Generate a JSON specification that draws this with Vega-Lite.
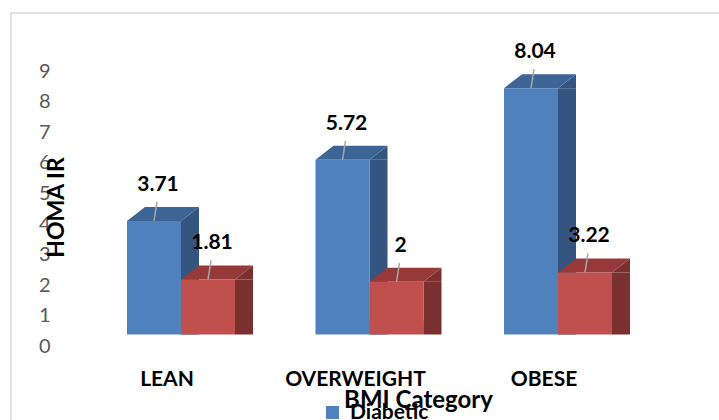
{
  "$schema": "https://vega.github.io/schema/vega-lite/v6.json",
  "width": 708,
  "height": 407,
  "autosize": {"type": "none"},
  "padding": {"left": 11, "top": 13, "right": 0, "bottom": 0},
  "background": "white",
  "config": {
    "view": {"stroke": "#D9D9D9", "strokeWidth": 1.5, "strokeDash": [708, 1115]},
    "font": "Lato"
  },
  "data": {
    "values": [
      {"cat": "LEAN", "series": "Diabetic", "value": 3.71, "label": "3.71"},
      {"cat": "LEAN", "series": "Non-Diabetic", "value": 1.8, "label": "1.81"},
      {"cat": "OVERWEIGHT", "series": "Diabetic", "value": 5.71, "label": "5.72"},
      {"cat": "OVERWEIGHT", "series": "Non-Diabetic", "value": 1.72, "label": "2"},
      {"cat": "OBESE", "series": "Diabetic", "value": 8.05, "label": "8.04"},
      {"cat": "OBESE", "series": "Non-Diabetic", "value": 2.03, "label": "3.22"}
    ]
  },
  "encoding": {
    "x": {
      "field": "cat",
      "type": "nominal",
      "sort": ["LEAN", "OVERWEIGHT", "OBESE"],
      "scale": {"range": [116, 601], "paddingInner": 0.427, "paddingOuter": 0},
      "axis": {
        "title": "BMI Category",
        "orient": "bottom",
        "offset": -52,
        "ticks": false,
        "domain": false,
        "grid": false,
        "labelPadding": 0,
        "labelOffset": -14,
        "labelAngle": 0,
        "labelFont": "Lato",
        "labelFontSize": 21,
        "labelFontWeight": "bold",
        "labelColor": "black",
        "titleFont": "Lato",
        "titleFontSize": 24,
        "titleFontWeight": "bold",
        "titleColor": "black",
        "titleX": 407,
        "titleY": 39,
        "titleAlign": "center",
        "titleBaseline": "alphabetic"
      }
    },
    "y": {
      "field": "value",
      "type": "quantitative",
      "title": "HOMA IR",
      "scale": {"domain": [0, 9], "range": [321.5, 46.1], "nice": false, "zero": true},
      "axis": {
        "title": "HOMA IR",
        "values": [0, 1, 2, 3, 4, 5, 6, 7, 8, 9],
        "offset": -39,
        "ticks": false,
        "domain": false,
        "grid": false,
        "labelPadding": 0,
        "labelOffset": 12,
        "labelFont": "Lato",
        "labelFontSize": 20,
        "labelColor": "#595959",
        "titleFont": "Lato",
        "titleFontSize": 23,
        "titleFontWeight": "bold",
        "titleColor": "black",
        "titleAngle": -90,
        "titleX": 6.5,
        "titleY": 194,
        "titleAlign": "center",
        "titleBaseline": "middle"
      }
    }
  },
  "layer": [
    {
      "transform": [{"filter": "datum.series === 'Diabetic'"}],
      "mark": {"type": "bar", "width": 18, "xOffset": 9, "y2Offset": -14, "color": "#34557F"}
    },
    {
      "transform": [{"filter": "datum.series === 'Non-Diabetic'"}],
      "mark": {"type": "bar", "width": 18, "xOffset": 63, "y2Offset": -14, "color": "#7A302F"}
    },
    {
      "mark": {"type": "point", "shape": "M27,0L45,-14L45,0Z", "size": 4, "filled": true, "opacity": 1, "strokeWidth": 0},
      "encoding": {
        "xOffset": {"field": "series", "type": "nominal", "sort": ["Diabetic", "Non-Diabetic"], "scale": {"paddingInner": 0, "paddingOuter": 0}},
        "color": {"condition": {"test": "datum.series === 'Diabetic'", "value": "#34557F"}, "value": "#7A302F"}
      }
    },
    {
      "mark": {"type": "point", "shape": "M27,-14L27,0L45,-14Z", "size": 4, "filled": true, "opacity": 1, "strokeWidth": 0},
      "encoding": {
        "y": {"datum": 0, "type": "quantitative", "title": "HOMA IR"},
        "xOffset": {"field": "series", "type": "nominal", "sort": ["Diabetic", "Non-Diabetic"]},
        "color": {"condition": {"test": "datum.series === 'Diabetic'", "value": "#34557F"}, "value": "#7A302F"}
      }
    },
    {
      "mark": {"type": "point", "shape": "M-27,0L27,0L45,-14L-9,-14Z", "size": 4, "filled": true, "opacity": 1, "strokeWidth": 0},
      "encoding": {
        "xOffset": {"field": "series", "type": "nominal", "sort": ["Diabetic", "Non-Diabetic"]},
        "color": {"condition": {"test": "datum.series === 'Diabetic'", "value": "#3C6596"}, "value": "#953A38"}
      }
    },
    {
      "mark": {"type": "bar"},
      "encoding": {
        "xOffset": {"field": "series", "type": "nominal", "sort": ["Diabetic", "Non-Diabetic"]},
        "color": {
          "field": "series",
          "type": "nominal",
          "scale": {"domain": ["Diabetic", "Non-Diabetic"], "range": ["#4F81BD", "#C0504D"]},
          "legend": {
            "orient": "none",
            "legendX": 311,
            "legendY": 389,
            "title": null,
            "direction": "vertical",
            "symbolType": "square",
            "symbolSize": 169,
            "symbolStrokeWidth": 0,
            "labelFont": "Lato",
            "labelFontSize": 21,
            "labelFontWeight": "bold",
            "labelColor": "black",
            "labelOffset": 7,
            "rowPadding": 6,
            "padding": 0
          }
        }
      }
    },
    {
      "mark": {"type": "point", "shape": "M0,0L3,-19", "size": 4, "filled": false, "opacity": 1, "stroke": "#A6A6A6", "strokeWidth": 1.5},
      "encoding": {
        "xOffset": {"field": "series", "type": "nominal", "sort": ["Diabetic", "Non-Diabetic"]}
      }
    },
    {
      "mark": {"type": "text", "dx": 4, "dy": -30, "baseline": "alphabetic", "align": "center", "font": "Lato", "fontSize": 21, "fontWeight": "bold", "color": "black"},
      "encoding": {
        "xOffset": {"field": "series", "type": "nominal", "sort": ["Diabetic", "Non-Diabetic"]},
        "text": {"field": "label", "type": "nominal"}
      }
    }
  ]
}
